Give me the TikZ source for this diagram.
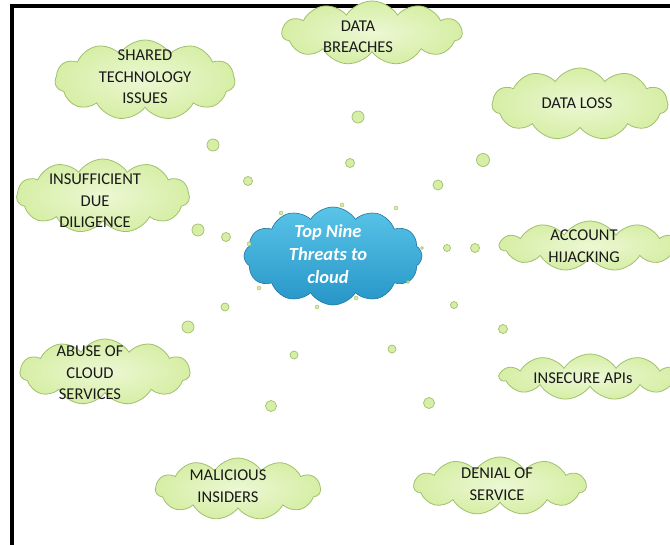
\documentclass[tikz,border=0pt]{standalone}
\usepackage{fontspec}
\setmainfont{Carlito}
\usetikzlibrary{shapes.symbols}
\definecolor{puffgreen}{RGB}{214,238,165}
\definecolor{puffpale}{RGB}{236,248,212}
\definecolor{puffedge}{RGB}{160,192,110}
\definecolor{skyblue}{RGB}{90,196,232}
\definecolor{deepblue}{RGB}{38,150,200}
\tikzset{
  threatcloud/.style={cloud, cloud puffs=11, cloud puff arc=115, cloud ignores aspect,
    inner sep=0pt, draw=puffedge, line width=0.8pt, inner color=puffpale, outer color=puffgreen},
  threattext/.style={align=center, font=\fontsize{16.5}{21.5}\selectfont, text=black!90},
  hubcloud/.style={cloud, cloud puffs=12, cloud puff arc=115, cloud ignores aspect,
    inner sep=0pt, draw=deepblue!80!black, line width=0.6pt, top color=skyblue, bottom color=deepblue},
  bubble/.style={draw=puffedge, line width=0.7pt, fill=puffgreen}
}
\begin{document}
\begin{tikzpicture}[x=1pt,y=-1pt]
			%%%%% FRAME %%%%%
			\useasboundingbox (0,0) rectangle (670,545);
			\clip (0,0) rectangle (670,545);
			\fill[white] (0,0) rectangle (670,545);
			\draw[line width=4pt] (12,545) -- (12,6.5) -- (672,6.5);
			
			%%%%% BUBBLES %%%%%
			\foreach \bx/\by/\br in {358/117/6, 213/145/6, 350/163/4.5, 483/160/6.5, 248/181/4.5,
			    438/185/5, 198/230/6, 226/237/4.5, 447/248/3.5, 475/248/4.5, 225/307/4,
			    454/305/3.5, 188/327/6, 294/355/4, 392/349/4, 271/406/5.5, 429/403/5.5, 503/329/4.5}
			  \draw[bubble] (\bx,\by) circle (\br pt);
			
			%%%%% HUB %%%%%
			\node[hubcloud, minimum width=178pt, minimum height=98pt] (hub) at (333,256) {};
			\node[align=center, text=white, font=\fontsize{18.5}{23}\selectfont\bfseries\itshape] (hub-t) at (328,254) {Top Nine\\Threats to\\cloud};
			
			\foreach \bx/\by/\br in {281/213/2, 342/205/2, 396/208/2, 249/244/2, 422/248/1.5,
			    408/282/1.5, 259/288/2, 317/307/2, 356/298/2}
			  \draw[bubble, line width=0.4pt] (\bx,\by) circle (\br pt);
			
			%%%%% THREATS %%%%%
			\node[threatcloud, minimum width=180pt, minimum height=80pt] (shared) at (145,80) {};
			\node[threattext] (shared-t) at (145,77) {SHARED\\TECHNOLOGY\\ISSUES};
			
			\node[threatcloud, minimum width=180pt, minimum height=64pt] (breach) at (372,33) {};
			\node[threattext] (breach-t) at (358,37) {DATA\\BREACHES};
			
			\node[threatcloud, minimum width=176pt, minimum height=72pt] (loss) at (580,104) {};
			\node[threattext] (loss-t) at (577,103) {DATA LOSS};
			
			\node[threatcloud, minimum width=173pt, minimum height=74pt] (diligence) at (103,196) {};
			\node[threattext] (diligence-t) at (95,201) {INSUFFICIENT\\DUE\\DILIGENCE};
			
			\node[threatcloud, minimum width=180pt, minimum height=50pt] (hijack) at (590,246) {};
			\node[threattext] (hijack-t) at (584,246) {ACCOUNT\\HIJACKING};
			
			\node[threatcloud, minimum width=170pt, minimum height=66pt] (abuse) at (105,372) {};
			\node[threattext] (abuse-t) at (90,373) {ABUSE OF\\CLOUD\\SERVICES};
			
			\node[threatcloud, minimum width=180pt, minimum height=46pt] (api) at (590,377) {};
			\node[threattext] (api-t) at (583,378) {INSECURE APIs};
			
			\node[threatcloud, minimum width=165pt, minimum height=62pt] (insider) at (238,489) {};
			\node[threattext] (insider-t) at (228,486) {MALICIOUS\\INSIDERS};
			
			\node[threatcloud, minimum width=172pt, minimum height=58pt] (denial) at (500,486) {};
			\node[threattext] (denial-t) at (497,484) {DENIAL OF\\SERVICE};
			%%%%% END %%%%%
\end{tikzpicture}
\end{document}
